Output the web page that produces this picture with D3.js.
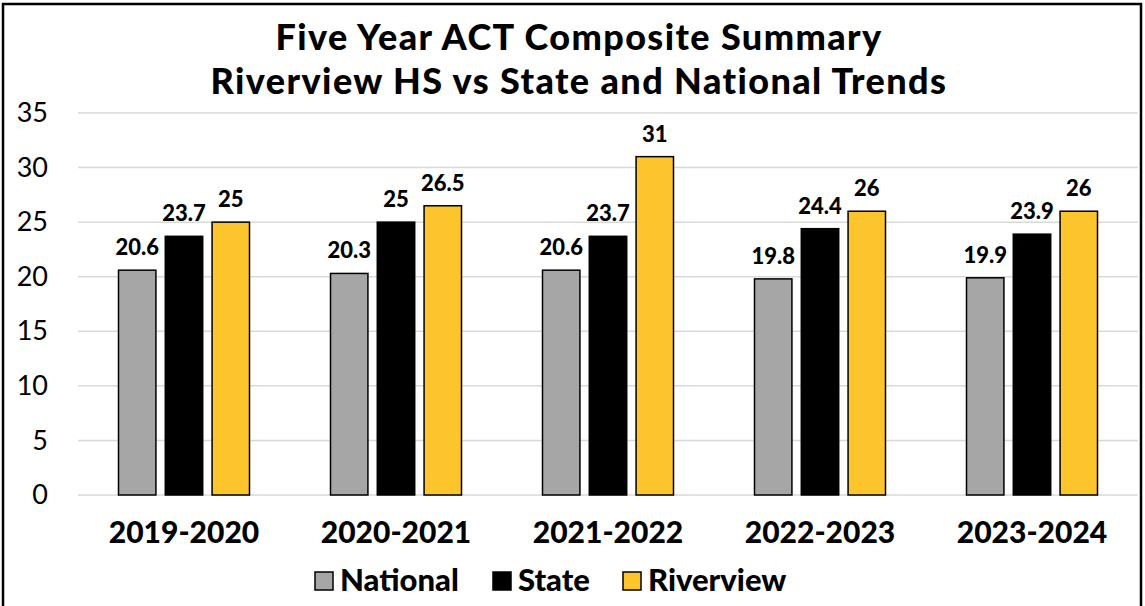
<!DOCTYPE html>
<html>
<head>
<meta charset="utf-8">
<script src="https://cdn.jsdelivr.net/npm/d3@7"></script>
<style>
  body { margin: 0; background: #fff; }
  svg text { font-family: Lato, "Open Sans", sans-serif; }
</style>
</head>
<body>
<div id="chart"></div>
<script>
const years = ['2019-2020', '2020-2021', '2021-2022', '2022-2023', '2023-2024'];
const seriesNames = ['National', 'State', 'Riverview'];
const national = [20.6, 20.3, 20.6, 19.8, 19.9];
const state = [23.7, 25, 23.7, 24.4, 23.9];
const riverview = [25, 26.5, 31, 26, 26];
const yTicks = [0, 5, 10, 15, 20, 25, 30, 35];

const colors = { National: '#a6a6a6', State: '#000000', Riverview: '#fdc52c' };
const seriesValues = { National: national, State: state, Riverview: riverview };

const width = 1145, height = 606;
const margin = { top: 113, right: 7, bottom: 111, left: 78 };
const groupW = 131;

const svg = d3.select('#chart').append('svg')
  .attr('width', width)
  .attr('height', height);

// outer frame
svg.append('rect')
  .attr('x', 3).attr('y', 4)
  .attr('width', width - 7).attr('height', height + 10)
  .attr('fill', 'none')
  .attr('stroke', '#000')
  .attr('stroke-width', 2.5);

const x0 = d3.scaleBand()
  .domain(years)
  .range([margin.left, width - margin.right]);

const x1 = d3.scaleBand()
  .domain(seriesNames)
  .range([0, groupW])
  .paddingInner(0.2);

const y = d3.scaleLinear()
  .domain([0, 35])
  .range([height - margin.bottom, margin.top]);

// gridlines
svg.append('g')
  .selectAll('line')
  .data(yTicks)
  .join('line')
  .attr('x1', margin.left)
  .attr('x2', width - margin.right)
  .attr('y1', d => y(d))
  .attr('y2', d => y(d))
  .attr('stroke', '#d9d9d9')
  .attr('stroke-width', 1.5);

// y axis
const yAxis = svg.append('g')
  .attr('transform', `translate(${margin.left},0)`)
  .call(d3.axisLeft(y).tickValues(yTicks).tickSize(0).tickPadding(30));
yAxis.select('.domain').remove();
yAxis.selectAll('text')
  .attr('font-size', 27)
  .attr('fill', '#000')
  .style('font-family', 'Lato, sans-serif');

// bars
const groups = svg.append('g')
  .selectAll('g')
  .data(years)
  .join('g')
  .attr('transform', d => `translate(${x0(d) + (x0.bandwidth() - groupW) / 2},0)`);

groups.selectAll('rect')
  .data((d, i) => seriesNames.map(s => ({ s, v: seriesValues[s][i] })))
  .join('rect')
  .attr('x', d => x1(d.s))
  .attr('y', d => y(d.v))
  .attr('width', x1.bandwidth())
  .attr('height', d => y(0) - y(d.v))
  .attr('fill', d => colors[d.s])
  .attr('stroke', '#000')
  .attr('stroke-width', 1.5);

groups.selectAll('text.val')
  .data((d, i) => seriesNames.map(s => ({ s, v: seriesValues[s][i] })))
  .join('text')
  .attr('class', 'val')
  .attr('x', d => x1(d.s) + x1.bandwidth() / 2)
  .attr('y', d => y(d.v) - 15)
  .attr('text-anchor', 'middle')
  .attr('font-size', 22)
  .attr('font-weight', 900)
  .text(d => d.v);

// x axis labels
const xAxis = svg.append('g')
  .attr('transform', `translate(0,${y(0)})`)
  .call(d3.axisBottom(x0).tickSize(0).tickPadding(27));
xAxis.select('.domain').remove();
xAxis.selectAll('text')
  .attr('font-size', 30)
  .attr('font-weight', 900)
  .attr('fill', '#000')
  .style('font-family', 'Lato, sans-serif');

// title, two separate lines
svg.append('g')
  .selectAll('text')
  .data(['Five Year ACT Composite Summary', 'Riverview HS vs State and National Trends'])
  .join('text')
  .attr('x', 579)
  .attr('y', (d, i) => 50 + i * 44)
  .attr('text-anchor', 'middle')
  .attr('font-size', 36)
  .attr('font-weight', 900)
  .attr('letter-spacing', 1.4)
  .text(d => d);

// legend
const legendX = [315, 493, 623];
const legend = svg.append('g')
  .selectAll('g')
  .data(seriesNames)
  .join('g')
  .attr('transform', (d, i) => `translate(${legendX[i]},581)`);
legend.append('rect')
  .attr('x', 0).attr('y', -9)
  .attr('width', 18).attr('height', 18)
  .attr('fill', d => colors[d])
  .attr('stroke', '#000')
  .attr('stroke-width', 1.5);
legend.append('text')
  .attr('x', 25)
  .attr('y', 10)
  .attr('font-size', 31)
  .attr('font-weight', 900)
  .text(d => d);
</script>
</body>
</html>
